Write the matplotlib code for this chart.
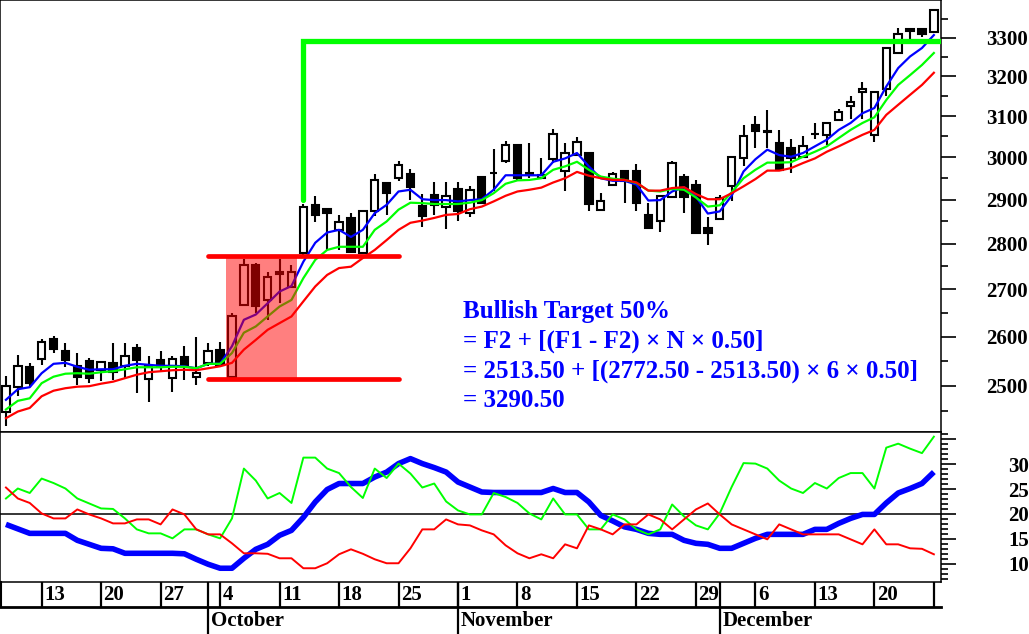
import numpy as np
import matplotlib
matplotlib.use("Agg")
import matplotlib.pyplot as plt
from matplotlib.ticker import FixedLocator, NullFormatter, FixedFormatter

# ─── Data ───
opens = [2449, 2498, 2537, 2554, 2594, 2571, 2540, 2549, 2532, 2546,
         2539, 2576, 2513, 2552, 2515, 2558, 2518, 2546, 2573, 2518,
         2667, 2753, 2677, 2737, 2705, 2779, 2888, 2878, 2831, 2858,
         2779, 2873, 2938, 2950, 2960, 2886, 2911, 2882, 2924, 2869,
         2953, 2962, 2991, 3030, 2962, 2950, 2995, 2966, 3005, 3010,
         2877, 2934, 2968, 2966, 2865, 2852, 2906, 2952, 2933, 2836,
         2856, 2932, 2997, 3077, 3062, 3035, 3021, 3001, 3055, 3053,
         3090, 3124, 3159, 3054, 3168, 3261, 3322, 3323, 3314]
highs = [2520, 2562, 2546, 2594, 2601, 2587, 2566, 2556, 2549, 2587,
         2587, 2585, 2559, 2571, 2559, 2580, 2600, 2587, 2588, 2650,
         2765, 2757, 2738, 2765, 2753, 2891, 2908, 2880, 2865, 2870,
         2874, 2960, 2940, 2990, 2971, 2914, 2941, 2941, 2941, 2931,
         2953, 3019, 3038, 3030, 3034, 2999, 3068, 3034, 3048, 3010,
         2915, 2964, 2968, 2984, 2893, 2909, 2991, 2960, 2945, 2860,
         2911, 3001, 3077, 3099, 3116, 3066, 3045, 3052, 3084, 3082,
         3118, 3149, 3186, 3160, 3273, 3325, 3322, 3324, 3376]
lows = [2420, 2480, 2497, 2542, 2566, 2537, 2501, 2505, 2510, 2512,
        2513, 2485, 2467, 2528, 2488, 2512, 2501, 2540, 2540, 2513.5,
        2665, 2650, 2634, 2670, 2702, 2775, 2848, 2786, 2786, 2779,
        2777, 2862, 2865, 2944, 2899, 2838, 2865, 2832, 2851, 2861,
        2890, 2920, 2986, 2947, 2950, 2948, 2986, 2920, 3003, 2873,
        2873, 2931, 2892, 2873, 2834, 2826, 2905, 2869, 2823, 2797,
        2855, 2896, 2980, 3021, 3021, 2970, 2962, 3001, 3045, 3030,
        3090, 3092, 3092, 3036, 3151, 3261, 3286, 3303, 3312]
closes = [2499, 2539, 2506, 2588, 2574, 2551, 2518, 2515, 2547, 2528,
          2560, 2551, 2540, 2539, 2554, 2539, 2526, 2571, 2542, 2642,
          2753, 2665, 2727, 2734, 2738, 2884, 2865, 2869, 2848, 2782,
          2873, 2945, 2916, 2981, 2930, 2862, 2888, 2909, 2873, 2922,
          2892, 2963, 3030, 2950, 2958, 2958, 3057, 3011, 3036, 2890,
          2898, 2960, 2944, 2892, 2836, 2909, 2987, 2906, 2823, 2825,
          2903, 3001, 3051, 3063, 3063, 2970, 2998, 3028, 3057, 3082,
          3111, 3134, 3168, 3160, 3273, 3310, 3318, 3310, 3375]

ma_blue = [2472, 2493, 2497, 2525, 2544, 2546, 2538, 2532, 2533, 2533,
           2540, 2544, 2542, 2540, 2540, 2539, 2535, 2544, 2544, 2580,
           2635, 2646, 2670, 2695, 2707, 2760, 2802, 2825, 2831, 2815,
           2831, 2869, 2888, 2919, 2923, 2901, 2899, 2899, 2896, 2899,
           2901, 2923, 2957, 2957, 2957, 2957, 2989, 2997, 3010, 2978,
           2950, 2944, 2944, 2935, 2898, 2899, 2919, 2929, 2907, 2868,
           2873, 2909, 2966, 2995, 3018, 3005, 3001, 3010, 3026, 3042,
           3066, 3083, 3107, 3120, 3174, 3221, 3251, 3273, 3307]
ma_green = [2453, 2470, 2475, 2505, 2518, 2524, 2525, 2524, 2527, 2529,
            2533, 2537, 2537, 2537, 2538, 2538, 2535, 2544, 2544, 2566,
            2608, 2621, 2642, 2663, 2677, 2724, 2764, 2786, 2793, 2793,
            2793, 2831, 2850, 2877, 2893, 2892, 2890, 2890, 2890, 2893,
            2899, 2915, 2937, 2945, 2946, 2950, 2970, 2978, 2989, 2970,
            2954, 2949, 2946, 2939, 2921, 2919, 2925, 2923, 2905, 2884,
            2887, 2917, 2950, 2970, 2987, 2987, 2988, 3001, 3013, 3026,
            3046, 3066, 3083, 3097, 3140, 3178, 3203, 3229, 3260]
ma_red = [2436, 2449, 2456, 2479, 2490, 2495, 2498, 2499, 2504, 2508,
          2515, 2522, 2527, 2529, 2531, 2532, 2531, 2535, 2539, 2546,
          2573, 2593, 2614, 2628, 2642, 2674, 2706, 2731, 2746, 2749,
          2768, 2786, 2808, 2831, 2847, 2852, 2858, 2865, 2867, 2878,
          2884, 2896, 2909, 2919, 2923, 2928, 2940, 2950, 2965, 2956,
          2950, 2946, 2946, 2940, 2921, 2921, 2927, 2929, 2913, 2901,
          2901, 2915, 2931, 2948, 2968, 2968, 2974, 2986, 2997, 3013,
          3026, 3040, 3054, 3066, 3103, 3128, 3153, 3178, 3209]

adx = [17.9, 17.0, 16.1, 16.1, 16.1, 16.1, 14.7, 13.9, 13.1, 13.0,
       12.1, 12.1, 12.1, 12.1, 12.1, 12.0, 10.9, 9.9, 9.1, 9.1,
       11.1, 12.9, 13.9, 15.7, 16.7, 19.3, 22.4, 24.9, 26.1, 26.1,
       26.1, 27.4, 28.4, 30.1, 31.1, 30.1, 29.3, 28.4, 26.4, 25.4,
       24.4, 24.3, 24.3, 24.3, 24.3, 24.3, 25.1, 24.3, 24.3, 22.4,
       19.7, 18.6, 17.4, 16.9, 16.1, 15.9, 15.9, 14.7, 14.1, 13.9,
       13.1, 13.1, 14.1, 15.1, 15.9, 15.9, 15.9, 15.9, 16.9, 16.9,
       18.1, 19.1, 19.9, 19.9, 22.2, 24.2, 25.1, 26.1, 28.4]
di_plus = [23.1, 25.1, 24.2, 27.1, 26.2, 25.1, 23.1, 22.1, 21.1, 21.0,
           19.1, 16.9, 16.1, 16.1, 15.1, 16.9, 16.9, 15.9, 15.1, 19.1,
           29.1, 26.7, 23.1, 24.2, 22.2, 31.3, 31.3, 29.1, 28.2, 25.4,
           23.2, 29.1, 27.2, 30.1, 28.1, 25.3, 26.1, 22.5, 20.7, 19.9,
           19.9, 24.2, 23.4, 22.2, 20.1, 18.9, 23.1, 19.9, 19.9, 16.9,
           16.9, 19.9, 18.9, 16.9, 15.9, 16.9, 21.9, 19.5, 17.7, 16.9,
           20.1, 25.4, 30.2, 30.1, 29.1, 26.7, 25.1, 24.2, 26.2, 25.1,
           27.2, 28.2, 28.2, 25.1, 33.3, 34.1, 33.1, 32.2, 35.5]
di_minus = [25.3, 23.1, 22.2, 20.1, 19.1, 19.1, 20.9, 19.9, 19.1, 18.1,
            18.1, 18.9, 18.9, 17.9, 20.9, 19.9, 16.9, 15.9, 15.9, 14.1,
            12.1, 12.1, 12.0, 11.1, 11.1, 9.1, 9.1, 10.1, 11.9, 12.9,
            12.0, 10.9, 10.1, 10.1, 13.1, 16.9, 16.9, 18.9, 17.9, 17.7,
            16.7, 15.9, 13.7, 12.1, 11.1, 11.9, 11.1, 13.9, 13.1, 17.7,
            16.9, 15.9, 17.9, 17.9, 19.9, 18.9, 16.9, 18.9, 20.9, 22.1,
            19.9, 17.9, 16.9, 15.9, 14.9, 17.9, 16.9, 15.9, 15.9, 15.9,
            15.9, 14.9, 13.9, 16.9, 13.9, 13.9, 13.1, 13.0, 11.9]

day_idx = [3, 8, 13, 18, 23, 28, 33, 38, 43, 48, 53, 58, 63, 68, 73, 78]
day_labels = ["13", "20", "27", "4", "11", "18", "25", "1", "8", "15",
              "22", "29", "6", "13", "20", ""]
month_idx = [17, 38, 60]
month_labels = ["October", "November", "December"]

F1 = 2772.50
F2 = 2513.50
N = 6
target = F2 + (F1 - F2) * N * 0.50
box_first, box_last = 19, 24
f_line_span = (17, 33)
target_start_idx, target_start_price = 25, 2900

# ─── Layout ───
W, H = 1029, 634
fig = plt.figure(figsize=(W / 100, H / 100), dpi=100)
fig.patch.set_facecolor("white")
serif = dict(family="Liberation Serif", weight="bold")

x0, x1 = -0.5, 78.6
ax1 = fig.add_axes([0, 1 - 431.7 / H, 941 / W, 431.7 / H])
ax2 = fig.add_axes([0, 1 - 581.7 / H, 941 / W, 150 / H])
ax3 = fig.add_axes([0, 0, 941 / W, 52.3 / H])

x = np.arange(len(closes))
o = np.array(opens); c = np.array(closes)

# ─── Price panel ───
ax1.set_yscale("log")
ax1.vlines(x, lows, highs, color="black", lw=1.5, zorder=2)
body_lo = np.minimum(o, c); body_h = np.abs(c - o)
fills = ["white" if cc >= oo else "black" for oo, cc in zip(o, c)]
ax1.bar(x, body_h, bottom=body_lo, width=0.62, color=fills,
        edgecolor="black", linewidth=1.5, zorder=3)

ax1.plot(x, ma_blue, color="#0000ff", lw=1.6, zorder=4)
ax1.plot(x, ma_green, color="#00ff00", lw=1.6, zorder=4)
ax1.plot(x, ma_red, color="#ff0000", lw=1.6, zorder=4)

ax1.fill_between([box_first - 0.5, box_last + 0.5], F2, F1,
                 color="#ff0000", alpha=0.5, lw=0, zorder=5)
for lvl in (F1, F2):
    ax1.plot(f_line_span, [lvl, lvl], color="#ff0000", lw=3.4,
             solid_capstyle="round", zorder=6)
ax1.plot([target_start_idx, target_start_idx, x1 + 1],
         [target_start_price, target, target], color="#00ff00", lw=3.8,
         solid_capstyle="round", solid_joinstyle="miter", zorder=6)

ax1.set_xlim(x0, x1)
ax1.set_ylim(2409.9, 3400.8)
ax1.yaxis.tick_right()
ax1.yaxis.set_major_locator(FixedLocator(np.arange(2500, 3301, 100)))
ax1.yaxis.set_minor_locator(FixedLocator(np.arange(2450, 3400, 100)))
ax1.yaxis.set_major_formatter(FixedFormatter([str(v) for v in range(2500, 3301, 100)]))
ax1.yaxis.set_minor_formatter(NullFormatter())
ax1.tick_params(axis="y", which="major", length=10.8, width=1.2, pad=21.6)
ax1.tick_params(axis="y", which="minor", length=5, width=1.2)
ax1.set_xticks([])
for lab in ax1.get_yticklabels():
    lab.set_fontproperties(dict(serif, size=15))

# annotation text
text_lines = ["Bullish Target 50%",
              "= F2 + [(F1 - F2) \u00d7 N \u00d7 0.50]",
              f"= {F2:.2f} + [({F1:.2f} - {F2:.2f}) \u00d7 {N} \u00d7 0.50]",
              f"= {target:.2f}"]
for k, s in enumerate(text_lines):
    fig.text(463 / W, 1 - (318 + 29.6 * k) / H, s, color="#0000ff",
             fontsize=18, va="baseline", ha="left", **serif)

# ─── Indicator panel ───
ax2.axhline(20, color="black", lw=1.1, zorder=1)
ax2.plot(x, adx, color="#0000ff", lw=4.0, solid_capstyle="butt", zorder=2)
ax2.plot(x, di_plus, color="#00ff00", lw=1.4, zorder=3)
ax2.plot(x, di_minus, color="#ff0000", lw=1.4, zorder=3)
ax2.set_xlim(x0, x1)
ax2.set_ylim(6.4, 36.5)
ax2.yaxis.tick_right()
ax2.yaxis.set_major_locator(FixedLocator([10, 15, 20, 25, 30, 35]))
ax2.yaxis.set_major_formatter(FixedFormatter(["10", "15", "20", "25", "30", ""]))
ax2.yaxis.set_minor_locator(FixedLocator(np.arange(7, 37, 1)))
ax2.yaxis.set_minor_formatter(NullFormatter())
ax2.tick_params(axis="y", which="major", length=10.8, width=1.2, pad=37.4)
ax2.tick_params(axis="y", which="minor", length=5, width=1.2)
ax2.set_xticks([])
for lab in ax2.get_yticklabels():
    lab.set_fontproperties(dict(serif, size=15))

for ax in (ax1, ax2):
    for sp in ax.spines.values():
        sp.set_linewidth(1.1)

# ─── Date axis ───
row_sep = 0.516
ax3.set_xlim(x0, x1)
ax3.set_ylim(0, 1)
ax3.axis("off")
ax3.plot([x0, x1], [row_sep, row_sep], color="black", lw=2.0, clip_on=False)
ax3.plot([x0 + 0.05, x0 + 0.05], [row_sep, 1], color="black", lw=1.5, clip_on=False)
ax3.vlines(day_idx, row_sep, 1, color="black", lw=1.6)
ax3.vlines(month_idx, 0, 1, color="black", lw=1.6)
for i, s in zip(day_idx, day_labels):
    ax3.text(i + 0.2, 0.74, s, ha="left", va="center", fontsize=15, **serif)
for i, s in zip(month_idx, month_labels):
    ax3.text(i + 0.25, 0.25, s, ha="left", va="center", fontsize=15, **serif)

fig.savefig("out.png", dpi=100, facecolor="white")
